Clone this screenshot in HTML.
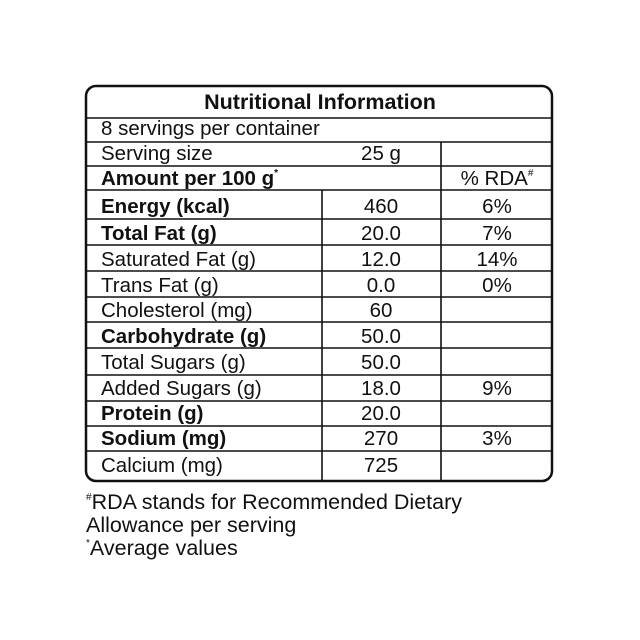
<!DOCTYPE html>
<html><head><meta charset="utf-8"><style>
html,body{margin:0;padding:0;background:#fff;}
svg{display:block;}
text{font-family:"Liberation Sans",sans-serif;font-size:20.5px;fill:#111;}
.b{font-weight:bold;}
.c{text-anchor:middle;}
.f{font-size:21.5px;}
</style></head><body>
<svg width="640" height="640" viewBox="0 0 640 640">
<rect x="86" y="86" width="466" height="395" rx="10" ry="10" fill="none" stroke="#111" stroke-width="2.5"/>
<g stroke="#111" stroke-width="1.6">
<line x1="86" y1="118" x2="552" y2="118"/>
<line x1="86" y1="142" x2="552" y2="142"/>
<line x1="86" y1="166" x2="552" y2="166"/>
<line x1="86" y1="190" x2="552" y2="190"/>
<line x1="86" y1="219" x2="552" y2="219"/>
<line x1="86" y1="245" x2="552" y2="245"/>
<line x1="86" y1="271" x2="552" y2="271"/>
<line x1="86" y1="297" x2="552" y2="297"/>
<line x1="86" y1="322" x2="552" y2="322"/>
<line x1="86" y1="348" x2="552" y2="348"/>
<line x1="86" y1="375" x2="552" y2="375"/>
<line x1="86" y1="401" x2="552" y2="401"/>
<line x1="86" y1="426" x2="552" y2="426"/>
<line x1="86" y1="451" x2="552" y2="451"/>
<line x1="441" y1="142" x2="441" y2="481"/>
<line x1="322" y1="190" x2="322" y2="481"/>
</g>
<text x="320" y="109" class="b c" style="font-size:21.5px">Nutritional Information</text>
<text x="101" y="135">8 servings per container</text>
<text x="101" y="160">Serving size</text><text x="381" y="160" class="c">25 g</text>
<text x="101" y="185" class="b">Amount per 100 g<tspan font-size="10" dy="-9">*</tspan></text>
<text x="497" y="185" class="c">% RDA<tspan font-size="10" dy="-9">#</tspan></text>
<text x="101" y="213" class="b">Energy (kcal)</text><text x="381" y="213" class="c">460</text><text x="497" y="213" class="c">6%</text>
<text x="101" y="240" class="b">Total Fat (g)</text><text x="381" y="240" class="c">20.0</text><text x="497" y="240" class="c">7%</text>
<text x="101" y="266">Saturated Fat (g)</text><text x="381" y="266" class="c">12.0</text><text x="497" y="266" class="c">14%</text>
<text x="101" y="292">Trans Fat (g)</text><text x="381" y="292" class="c">0.0</text><text x="497" y="292" class="c">0%</text>
<text x="101" y="317">Cholesterol (mg)</text><text x="381" y="317" class="c">60</text>
<text x="101" y="343" class="b">Carbohydrate (g)</text><text x="381" y="343" class="c">50.0</text>
<text x="101" y="369">Total Sugars (g)</text><text x="381" y="369" class="c">50.0</text>
<text x="101" y="395">Added Sugars (g)</text><text x="381" y="395" class="c">18.0</text><text x="497" y="395" class="c">9%</text>
<text x="101" y="420" class="b">Protein (g)</text><text x="381" y="420" class="c">20.0</text>
<text x="101" y="445" class="b">Sodium (mg)</text><text x="381" y="445" class="c">270</text><text x="497" y="445" class="c">3%</text>
<text x="101" y="472">Calcium (mg)</text><text x="381" y="472" class="c">725</text>
<text x="86" y="509" class="f"><tspan font-size="10" dy="-9">#</tspan><tspan dy="9">RDA stands for Recommended Dietary</tspan></text>
<text x="86" y="532" class="f">Allowance per serving</text>
<text x="86" y="555" class="f"><tspan font-size="10" dy="-9">*</tspan><tspan dy="9">Average values</tspan></text>
</svg>
</body></html>
